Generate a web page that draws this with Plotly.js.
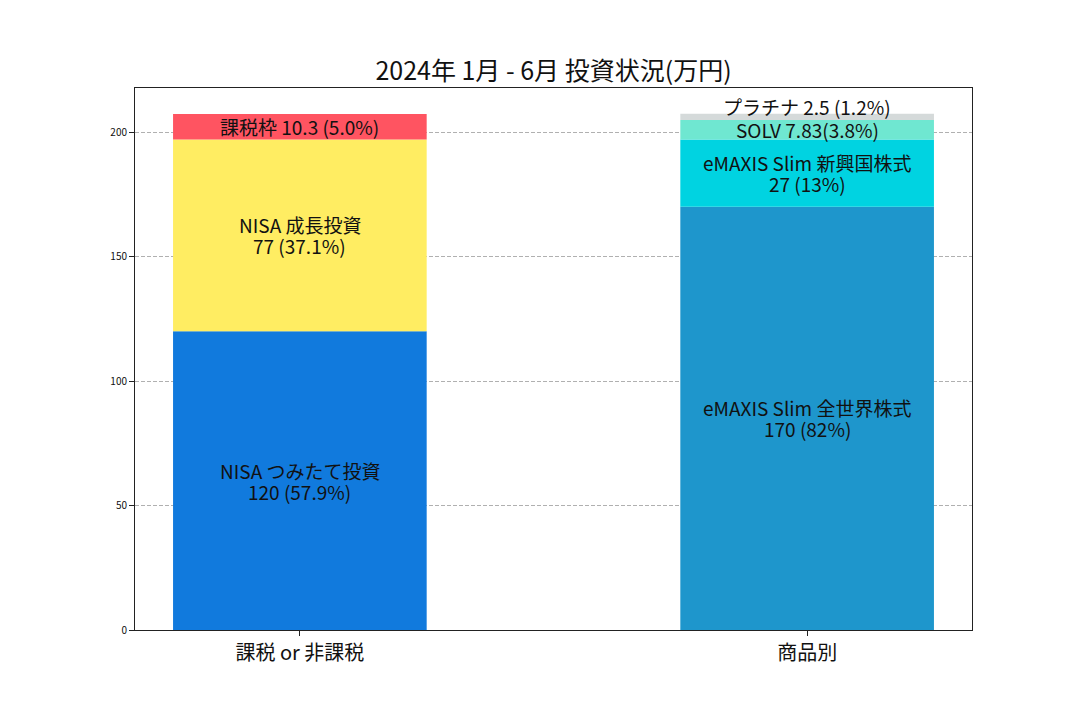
<!DOCTYPE html>
<html>
<head>
<meta charset="utf-8">
<script src="https://cdn.plot.ly/plotly-3.0.1.min.js"></script>
<style>html,body{margin:0;padding:0;background:#fff;}</style>
</head>
<body>
<div id="chart" style="width:1080px;height:720px;"></div>
<script>
// Categories (x positions 0 and 1)
const categories = ["課税 or 非課税", "商品別"];

// Left bar: 課税 or 非課税
const leftNames = ["NISA つみたて投資", "NISA 成長投資", "課税枠"];
const leftValues = [120, 77, 10.3];
const leftLabels = [["NISA つみたて投資", "120 (57.9%)"], ["NISA 成長投資", "77 (37.1%)"], ["課税枠 10.3 (5.0%)"]];
const leftColors = ["#117ADD", "#FFED62", "#FF5461"];

// Right bar: 商品別
const rightNames = ["eMAXIS Slim 全世界株式", "eMAXIS Slim 新興国株式", "SOLV", "プラチナ"];
const rightValues = [170, 27, 7.83, 2.5];
const rightLabels = [["eMAXIS Slim 全世界株式", "170 (82%)"], ["eMAXIS Slim 新興国株式", "27 (13%)"], ["SOLV 7.83(3.8%)"], ["プラチナ 2.5 (1.2%)"]];
const rightColors = ["#1E96CC", "#00D3E1", "#6FE7D1", "#D5DADA"];
const rightShift = [0, 0, 0, 10];

const titleText = "2024年 1月 - 6月 投資状況(万円)";
const yTicks = [0, 50, 100, 150, 200];

const FONT = "'Noto Sans CJK JP', 'Noto Sans', sans-serif";
const traces = [];
const annotations = [];
const LINE = 21;

function addStack(xpos, names, values, labels, colors, shifts) {
  let base = 0;
  values.forEach((v, i) => {
    traces.push({
      type: "bar", x: [xpos], y: [v], base: [base], width: 0.5,
      name: names[i], marker: {color: colors[i], line: {width: 0}},
      hoverinfo: "name+y", showlegend: false
    });
    const lines = labels[i];
    const n = lines.length;
    lines.forEach((t, j) => {
      annotations.push({
        x: xpos, y: base + v / 2, xref: "x", yref: "y",
        text: t, showarrow: false,
        yshift: (shifts ? shifts[i] : 0) + ((n - 1) / 2 - j) * LINE,
        font: {family: FONT, size: 19, color: "#111"}
      });
    });
    base += v;
  });
  return base;
}
const lt = addStack(0, leftNames, leftValues, leftLabels, leftColors, null);
const rt = addStack(1, rightNames, rightValues, rightLabels, rightColors, rightShift);
const ymax = Math.max(lt, rt) * 1.05;

const layout = {
  width: 1080, height: 720,
  margin: {l: 135, r: 108, t: 88, b: 90},
  paper_bgcolor: "#fff", plot_bgcolor: "#fff",
  barmode: "overlay",
  title: {text: titleText, x: 0.5, xanchor: "center", xref: "paper",
          y: 1 - 71 / 720, yref: "container", yanchor: "middle",
          font: {family: FONT, size: 25, color: "#111"}},
  xaxis: {
    range: [-0.325, 1.325], tickvals: [0, 1], ticktext: categories,
    ticks: "outside", ticklen: 5, tickcolor: "#222",
    showline: true, linecolor: "#222", linewidth: 1, mirror: true,
    showgrid: false, zeroline: false,
    tickfont: {family: FONT, size: 20, color: "#111"}
  },
  yaxis: {
    range: [0, ymax], tickvals: yTicks,
    ticks: "outside", ticklen: 5, tickcolor: "#222",
    showline: true, linecolor: "#222", linewidth: 1, mirror: true,
    showgrid: true, gridcolor: "#b0b0b0", griddash: "4px,2px", gridwidth: 1,
    zeroline: false,
    tickfont: {family: FONT, size: 10, color: "#111"}
  },
  annotations: annotations
};
Plotly.newPlot("chart", traces, layout, {displayModeBar: false, staticPlot: true});
</script>
</body>
</html>
